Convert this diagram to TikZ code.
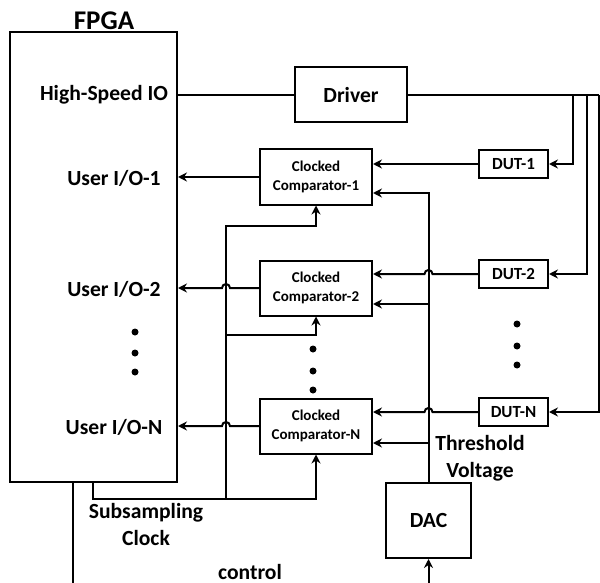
\documentclass[tikz,border=0pt]{standalone}
\usepackage{fontspec}
\setmainfont{Carlito}
\usepackage{tikz}
\usetikzlibrary{shapes, arrows.meta, positioning, calc}

\begin{document}
\begin{tikzpicture}[x=0.5pt, y=-0.5pt, line width=1pt,
            font=\bfseries\fontsize{10.8}{13.5}\selectfont,
            box/.style={draw, rectangle, inner sep=0pt, line width=1pt},
            cmp/.style={box, minimum width=56pt, minimum height=27.5pt, align=center,
                font=\bfseries\fontsize{7.5}{9.5}\selectfont},
            dut/.style={box, minimum width=34.5pt, minimum height=14pt,
                font=\bfseries\fontsize{8.5}{11}\selectfont},
            arr/.style={-{Stealth[length=4.5pt, width=4.5pt]}}]
            \useasboundingbox (0,0) rectangle (600,583);

            % blocks
            \node[box, minimum width=83.5pt, minimum height=225pt] (fpga) at (93.5,257) {};
            \node[font=\bfseries\fontsize{13.5}{15}\selectfont] (fpgalbl) at (104,21) {FPGA};
            \node (hsio) at (104,95) {High-Speed IO};
            \node (uio1) at (114,178) {User I/O-1};
            \node (uio2) at (114,289) {User I/O-2};
            \node (uion) at (114,427) {User I/O-N};
            \node[box, minimum width=56pt, minimum height=27.5pt] (driver) at (351,95) {Driver};
            \node[cmp] (c1) at (316,177) {Clocked\\Comparator-1};
            \node[cmp] (c2) at (316,288) {Clocked\\Comparator-2};
            \node[cmp] (cn) at (316,426) {Clocked\\Comparator-N};
            \node[dut] (dut1) at (513.5,164) {DUT-1};
            \node[dut] (dut2) at (513.5,274) {DUT-2};
            \node[dut] (dutn) at (513.5,412) {DUT-N};
            \node[box, minimum width=42.5pt, minimum height=37.5pt] (dac) at (428.5,520.5) {DAC};
            \node[align=center] (thrlbl) at (480,458) {Threshold\\Voltage};
            \node[align=center] (clklbl) at (146,524) {Subsampling\\Clock};
            \node (ctllbl) at (250,572) {control};

            % dots
            \foreach \y in {332,353,372} \fill (135,\y) circle[radius=1.75pt];
            \foreach \y in {349,371,390} \fill (313,\y) circle[radius=1.75pt];
            \foreach \y in {324,346,365} \fill (517,\y) circle[radius=1.75pt];

            % helper points
            \coordinate (b1) at (573,95);
            \coordinate (b2) at (587,95);
            \coordinate (b3) at (599,95);
            \coordinate (clk) at (93,499);
            \coordinate (bus) at (226,226);
            \coordinate (k2) at (226,335);
            \coordinate (t1) at ($(c1.east)+(0,16)$);
            \coordinate (t2) at ($(c2.east)+(0,16)$);
            \coordinate (tn) at ($(cn.east)+(0,17)$);
            \coordinate (ctl) at (73,583);

            % high-speed path
            \draw (fpga.east |- hsio) -- (driver.west);
            \draw (driver.east) -- (b3);
            \draw[arr] (b1) -- (b1 |- dut1.east) -- (dut1.east);
            \draw[arr] (b2) -- (b2 |- dut2.east) -- (dut2.east);
            \draw[arr] (b3) -- (b3 |- dutn.east) -- (dutn.east);

            % DUT to comparators
            \draw[arr] (dut1.west) -- (dut1.west -| c1.east);
            \draw[arr] (dut2.west) -- ($(dut2.west -| dac.north)+(2pt,0)$)
                arc[start angle=0, end angle=180, radius=2pt] -- (dut2.west -| c2.east);
            \draw[arr] (dutn.west) -- ($(dutn.west -| dac.north)+(2pt,0)$)
                arc[start angle=0, end angle=180, radius=2pt] -- (dutn.west -| cn.east);

            % threshold voltage
            \draw[arr] (dac.north) -- (dac.north |- t1) -- (t1);
            \draw[arr] (dac.north |- t2) -- (t2);
            \draw[arr] (dac.north |- tn) -- (tn);

            % comparator outputs
            \draw[arr] (c1.west) -- (c1.west -| fpga.east);
            \draw[arr] (c2.west) -- ($(c2.west -| bus)+(2pt,0)$)
                arc[start angle=0, end angle=180, radius=2pt] -- (c2.west -| fpga.east);
            \draw[arr] (cn.west) -- ($(cn.west -| bus)+(2pt,0)$)
                arc[start angle=0, end angle=180, radius=2pt] -- (cn.west -| fpga.east);

            % subsampling clock
            \draw[arr] (clk |- fpga.south) -- (clk) -- (clk -| cn.south) -- (cn.south);
            \draw[arr] (clk -| bus) -- (bus) -- (bus -| c1.south) -- (c1.south);
            \draw[arr] (k2) -- (k2 -| c2.south) -- (c2.south);

            % control
            \draw (ctl |- fpga.south) -- (ctl);
            \draw[arr] (ctl -| dac.south) -- (dac.south);
        \end{tikzpicture}
\end{document}
